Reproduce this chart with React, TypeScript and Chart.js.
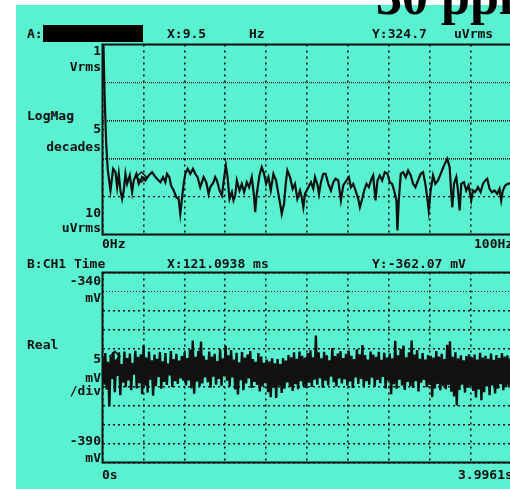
import React, { useEffect, useRef } from "react";
import { Chart, registerables } from "chart.js";

Chart.register(...registerables);

// ---------- Top panel: LogMag spectrum (uVrms vs Hz) ----------
const specFreq = [0,0.25,0.5,0.9,1.3,1.95,2.6,3.17,3.58,3.98,4.39,4.8,5.2,5.61,6.02,6.67,7.24,7.64,8.29,8.86,9.67,10.49,11.3,12.11,12.68,13.33,14.15,14.8,15.37,15.77,16.34,16.75,17.4,18.05,18.62,19.02,19.43,19.84,20.24,20.81,21.46,22.11,22.68,23.25,23.9,24.72,25.37,25.93,26.34,27.15,27.56,27.97,28.62,29.19,29.76,30.16,30.57,31.06,31.63,32.03,32.44,32.85,33.5,34.07,34.63,35.28,35.85,36.5,37.07,37.32,37.72,38.37,38.94,39.51,40,40.57,41.14,41.79,42.44,43.01,43.58,43.82,44.39,44.8,45.2,45.85,46.5,47.07,47.64,48.29,48.7,49.11,49.51,50.33,50.98,51.54,51.95,52.6,52.93,53.41,53.98,54.55,55.2,55.85,56.42,56.99,57.64,58.29,58.86,59.67,60.24,60.73,61.3,61.87,62.52,62.93,63.5,63.98,64.55,65.12,65.77,66.18,66.75,67.24,67.8,68.37,69.02,69.67,70.24,70.81,71.3,71.87,72.11,72.44,72.93,73.5,74.15,74.72,75.37,75.93,76.5,77.15,77.8,78.37,78.94,79.43,79.76,80.24,80.81,81.38,82.03,82.68,83.5,84.31,84.88,85.28,85.53,85.93,86.5,86.91,87.32,87.72,88.37,88.94,89.51,90.16,90.57,91.14,91.79,92.44,93.01,93.58,94.07,94.63,95.2,95.85,96.5,97.07,97.48,97.89,98.46,99.11,100];
const specMag = [1e6,9e5,5e4,2500,483,144,535,437,176,395,144,87,144,395,215,357,130,264,395,215,323,264,357,437,357,292,238,323,238,395,323,195,144,96,87,35,87,215,395,535,395,535,395,323,176,323,238,117,176,238,323,264,144,106,323,654,323,87,130,79,106,264,144,215,130,238,176,323,96,39,117,357,591,395,215,323,144,395,264,117,52,35,64,215,483,323,159,215,87,144,96,52,117,176,238,159,323,195,117,238,395,395,215,144,238,292,264,79,195,264,323,176,215,144,87,52,87,144,215,176,292,357,79,264,357,264,437,395,238,215,144,79,12.7,79,395,437,323,483,357,215,176,264,395,437,215,87,43,144,357,215,264,395,654,980,591,117,52,215,323,144,43,215,238,144,195,79,144,130,176,130,215,264,292,159,130,144,117,159,79,144,195,215,230];
const specDecades = [10, 100, 1000, 10000, 100000, 1000000];
const markerAFreq = 9.5;
const markerAMag = 324.7;

// ---------- Bottom panel: CH1 time (mV vs s) ----------
const timeEnd = 3.9961;
const timeDivs = 10;
const timeVals = [
-362.0,-369.5,-361.2,-370.8,-363.5,-375.2,-362.1,-368.0,-360.9,-371.5,-363.0,-367.2,-361.0,-372.3,-364.1,-369.0,-360.8,-370.2,-362.5,-368.4,-361.3,-371.0,-363.8,-366.9,-360.6,-370.5,-362.2,-369.1,-361.5,-372.0,
-359.2,-369.8,-362.4,-371.6,-360.8,-368.2,-363.1,-372.4,-361.6,-369.9,-362.7,-367.5,-360.9,-370.6,-363.4,-368.8,-361.2,-369.6,-364.0,-367.1,-360.7,-370.2,-362.8,-368.6,-361.4,-369.3,-363.2,-367.9,-362.0,-368.5,
-361.0,-369.7,-362.5,-368.4,-360.3,-370.5,-357.9,-371.9,-362.2,-368.7,-360.6,-370.0,-358.2,-369.2,-361.9,-367.6,-363.0,-368.9,-360.8,-370.3,-362.1,-367.4,-361.4,-369.5,-363.3,-368.0,-360.2,-369.8,-362.6,-367.3,
-359.3,-368.5,-361.8,-369.9,-360.4,-367.6,-362.9,-370.8,-361.1,-372.1,-363.6,-368.3,-360.9,-371.0,-362.4,-369.2,-361.6,-367.9,-360.7,-370.4,-362.8,-368.8,-363.5,-369.6,-361.2,-371.3,-362.1,-370.0,-363.8,-369.1,
-362.9,-371.5,-363.4,-372.8,-362.6,-370.3,-363.9,-373.0,-362.8,-369.8,-364.1,-371.7,-362.5,-370.6,-363.2,-368.9,-361.7,-370.1,-362.3,-371.2,-361.0,-369.4,-362.7,-370.7,-360.8,-368.6,-361.9,-369.9,-362.4,-370.4,
-361.2,-369.0,-360.5,-370.1,-362.3,-368.2,-356.6,-369.5,-361.0,-367.8,-362.6,-370.3,-360.9,-368.5,-361.8,-369.7,-363.1,-367.4,-359.9,-368.9,-362.0,-370.0,-361.3,-367.9,-360.7,-369.2,-362.5,-368.1,-361.4,-369.8,
-360.6,-368.7,-361.9,-370.4,-362.8,-367.6,-360.2,-369.3,-361.5,-368.0,-359.1,-370.2,-361.7,-368.6,-362.9,-369.5,-360.8,-367.7,-361.6,-370.0,-362.2,-368.3,-360.9,-369.1,-363.0,-367.5,-361.1,-370.5,-362.4,-368.4,
-361.3,-372.0,-362.6,-369.4,-358.0,-370.6,-361.8,-368.2,-360.1,-369.7,-359.2,-370.9,-362.3,-368.8,-361.0,-369.9,-357.9,-370.4,-361.6,-368.6,-360.4,-371.3,-362.7,-369.0,-361.2,-368.3,-362.9,-370.2,-361.7,-369.6,
-361.9,-372.8,-362.4,-370.5,-360.7,-369.3,-362.1,-371.0,-361.4,-369.8,-362.8,-370.7,-359.0,-369.6,-358.1,-371.4,-362.2,-372.6,-361.0,-375.0,-362.6,-370.9,-361.8,-369.5,-363.1,-371.6,-362.0,-370.3,-361.5,-369.9,
-362.3,-371.2,-361.6,-372.9,-362.9,-370.8,-361.1,-373.6,-362.4,-371.5,-361.9,-370.0,-362.7,-372.3,-361.3,-369.7,-363.0,-371.8,-361.7,-370.6,-362.5,-369.4,-361.2,-371.0,-362.1,-370.2,-361.8,-369.8,-362.6,-370.5
];
const markerBTime = 0.1210938;
const markerBVal = -362.07;

const TEAL = "#5af1d1";
const INK = "#111111";
const MONO = '"DejaVu Sans Mono", monospace';

const framePlugin = {
  id: "frame",
  afterDatasetsDraw(chart: any) {
    const { ctx, chartArea: a } = chart;
    ctx.save();
    ctx.strokeStyle = INK;
    ctx.lineWidth = 2;
    ctx.strokeRect(a.left, a.top, a.right - a.left, a.bottom - a.top);
    ctx.restore();
  },
};

function useChart(ref: React.RefObject<HTMLCanvasElement | null>, make: () => any) {
  useEffect(() => {
    if (!ref.current) return;
    const chart = new Chart(ref.current, make());
    return () => chart.destroy();
  }, []);
}

const baseOpts = {
  responsive: false,
  animation: false as const,
  events: [] as any[],
  layout: { padding: 0 },
  plugins: { legend: { display: false }, tooltip: { enabled: false } },
};

function TopChart() {
  const ref = useRef<HTMLCanvasElement>(null);
  useChart(ref, () => ({
    type: "line",
    data: {
      datasets: [
        {
          data: specFreq.map((f, i) => ({ x: f, y: specMag[i] })),
          borderColor: INK,
          borderWidth: 2.2,
          pointRadius: 0,
          tension: 0,
        },
        {
          data: [{ x: markerAFreq, y: markerAMag }],
          showLine: false,
          pointStyle: "rectRot",
          pointRadius: 5,
          borderColor: INK,
          borderWidth: 1.5,
          backgroundColor: "rgba(0,0,0,0)",
        },
      ],
    },
    options: {
      ...baseOpts,
      scales: {
        x: {
          type: "linear",
          min: 0,
          max: 100,
          ticks: { display: false, stepSize: 10 },
          grid: { color: INK, lineWidth: 1.6, drawTicks: false },
          border: { display: false, dash: [2, 4] },
        },
        y: {
          type: "logarithmic",
          min: 10,
          max: 1e6,
          afterBuildTicks: (ax: any) => {
            ax.ticks = specDecades.map((v) => ({ value: v }));
          },
          ticks: { display: false },
          grid: {
            color: INK,
            lineWidth: (c: any) => (c.tick && (c.tick.value === 1e4 || c.tick.value === 1e3) ? 1.6 : 1.2),
            drawTicks: false,
          },
          border: {
            display: false,
            dash: (c: any) => (c.tick && c.tick.value === 100 ? [2, 3] : [1, 1]),
          },
        },
      },
    },
    plugins: [framePlugin],
  }));
  return (
    <canvas
      ref={ref}
      width={422}
      height={203}
      style={{ position: "absolute", left: 96, top: 38, width: 422, height: 203 }}
    />
  );
}

function BottomChart() {
  const ref = useRef<HTMLCanvasElement>(null);
  useChart(ref, () => ({
    type: "line",
    data: {
      datasets: [
        {
          data: timeVals.map((v, i) => ({ x: (i * timeEnd) / (timeVals.length - 1), y: v })),
          borderColor: INK,
          borderWidth: 2.4,
          pointRadius: 0,
          tension: 0,
        },
        {
          data: [{ x: markerBTime, y: markerBVal }],
          showLine: false,
          pointStyle: "rectRot",
          pointRadius: 5,
          borderColor: INK,
          borderWidth: 1.5,
          backgroundColor: TEAL,
        },
      ],
    },
    options: {
      ...baseOpts,
      scales: {
        x: {
          type: "linear",
          min: 0,
          max: timeEnd,
          afterBuildTicks: (ax: any) => {
            ax.ticks = Array.from({ length: timeDivs + 1 }, (_, i) => ({ value: (i * timeEnd) / timeDivs }));
          },
          ticks: { display: false },
          grid: { color: INK, lineWidth: 1.6, drawTicks: false },
          border: { display: false, dash: [2, 4] },
        },
        y: {
          type: "linear",
          min: -390,
          max: -340,
          ticks: { display: false, stepSize: 5 },
          grid: {
            color: INK,
            lineWidth: (c: any) => (c.tick && c.tick.value === -345 ? 1 : 1.6),
            drawTicks: false,
          },
          border: {
            display: false,
            dash: (c: any) => (c.tick && c.tick.value === -345 ? [1, 2] : [2, 3]),
          },
        },
      },
    },
    plugins: [framePlugin],
  }));
  return (
    <canvas
      ref={ref}
      width={422}
      height={203}
      style={{ position: "absolute", left: 96, top: 266, width: 422, height: 203 }}
    />
  );
}

type Lbl = { t: string; x: number; y: number; right?: boolean };
const labels: Lbl[] = [
  { t: "A:", x: 27, y: 28 },
  { t: "X:9.5", x: 167, y: 28 },
  { t: "Hz", x: 249, y: 28 },
  { t: "Y:324.7", x: 372, y: 28 },
  { t: "uVrms", x: 454, y: 28 },
  { t: "1", x: 101, y: 45, right: true },
  { t: "Vrms", x: 101, y: 61, right: true },
  { t: "LogMag", x: 27, y: 110 },
  { t: "5", x: 101, y: 123, right: true },
  { t: "decades", x: 101, y: 141, right: true },
  { t: "10", x: 101, y: 207, right: true },
  { t: "uVrms", x: 101, y: 222, right: true },
  { t: "0Hz", x: 102, y: 238 },
  { t: "100Hz", x: 474, y: 238 },
  { t: "B:CH1 Time", x: 27, y: 258 },
  { t: "X:121.0938 ms", x: 167, y: 258 },
  { t: "Y:-362.07 mV", x: 372, y: 258 },
  { t: "-340", x: 101, y: 275, right: true },
  { t: "mV", x: 101, y: 292, right: true },
  { t: "Real", x: 27, y: 339 },
  { t: "5", x: 101, y: 353, right: true },
  { t: "mV", x: 101, y: 372, right: true },
  { t: "/div", x: 101, y: 385, right: true },
  { t: "-390", x: 101, y: 435, right: true },
  { t: "mV", x: 101, y: 452, right: true },
  { t: "0s", x: 102, y: 469 },
  { t: "3.9961s", x: 458, y: 469 },
];

export default function App() {
  return (
    <div
      style={{
        position: "fixed",
        left: 0,
        top: 0,
        width: 510,
        height: 489,
        overflow: "hidden",
        background: "#ffffff",
      }}
    >
      <div style={{ position: "absolute", left: 16, top: 5, width: 494, height: 484, background: TEAL }} />
      <div style={{ position: "absolute", left: 43, top: 25, width: 100, height: 17, background: "#000" }} />
      <TopChart />
      <BottomChart />
      {labels.map((l, i) => (
        <div
          key={i}
          style={{
            position: "absolute",
            top: l.y - 1.5,
            ...(l.right ? { right: 510 - l.x } : { left: l.x }),
            font: `bold 13px ${MONO}`,
            lineHeight: "13px",
            color: INK,
            whiteSpace: "pre",
          }}
        >
          {l.t}
        </div>
      ))}
      <div
        style={{
          position: "absolute",
          left: 376,
          top: -29,
          font: 'bold 52px "Liberation Serif", serif',
          lineHeight: "52px",
          color: "#000",
          whiteSpace: "pre",
        }}
      >
        30 ppm
      </div>
    </div>
  );
}
